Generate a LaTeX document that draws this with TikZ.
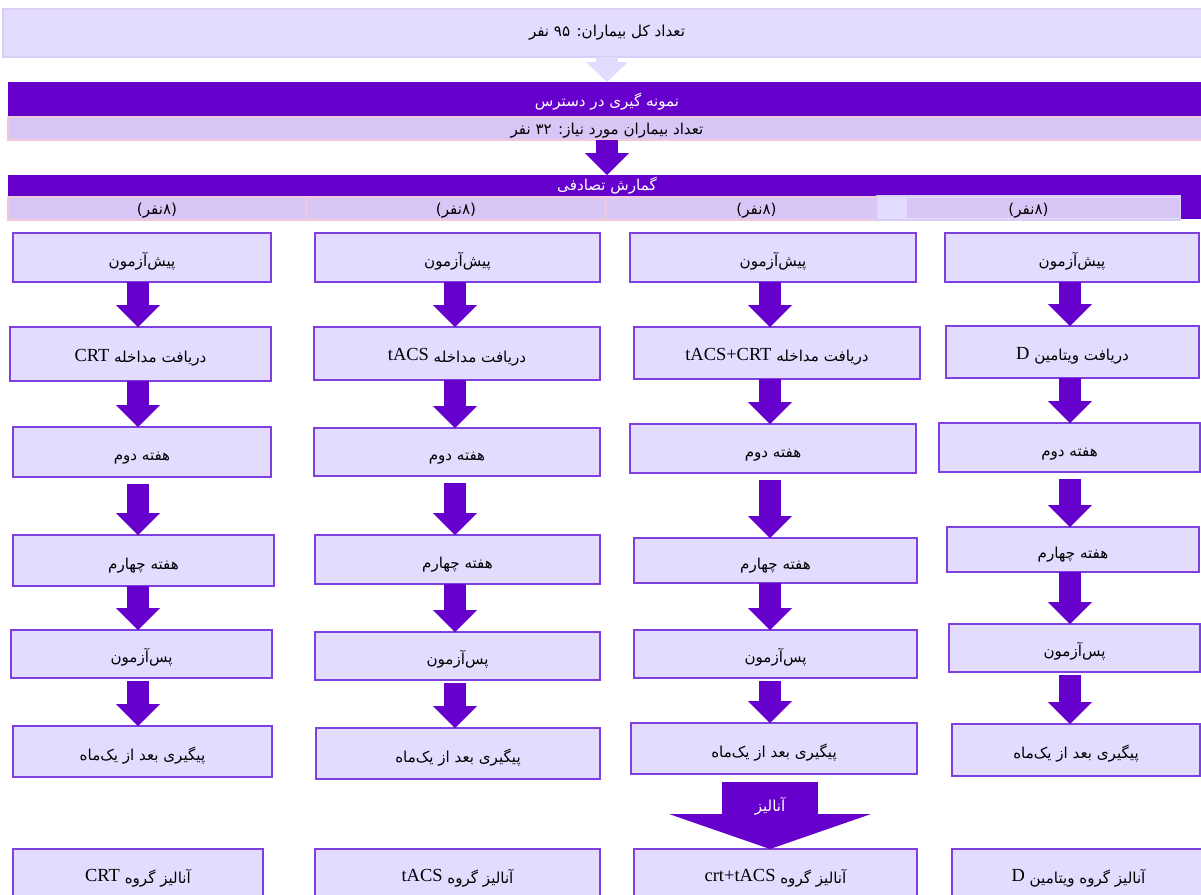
\documentclass[tikz,border=0pt]{standalone}
\usepackage{fontspec}
\setmainfont{Liberation Serif}
\newfontfamily\fa[Script=Arabic]{DejaVu Sans}
\TeXXeTstate=1
\usetikzlibrary{arrows.meta}

\definecolor{deeppurple}{HTML}{6600CC}
\definecolor{lavender}{HTML}{E4DCFF}
\definecolor{boxline}{HTML}{8040E0}
\definecolor{stripfill}{HTML}{D8C7F6}
\definecolor{stripline}{HTML}{F2C8DA}
\definecolor{paleline}{HTML}{D8CEF8}

\newcommand{\rtl}[1]{\beginR #1\endR}
\newcommand{\lat}[1]{{\rmfamily\fontsize{10.5}{12}\selectfont\raisebox{0.8pt}{#1}}}

\begin{document}
\begin{tikzpicture}
  [x=0.02cm, y=-0.02cm,
   every node/.style={inner sep=0pt, outer sep=0pt, font=\fa\fontsize{8.6}{10}\selectfont},
   stage/.style 2 args={rectangle, draw=boxline, line width=0.8pt, fill=lavender,
     text height=11pt, text depth=1pt,
     minimum width=#1*0.02cm, minimum height=#2*0.02cm},
   toppanel/.style 2 args={rectangle, draw=paleline, line width=0.8pt, fill=lavender,
     minimum width=#1*0.02cm, minimum height=#2*0.02cm},
   band/.style 2 args={rectangle, fill=deeppurple, text=white,
     minimum width=#1*0.02cm, minimum height=#2*0.02cm},
   strip/.style 2 args={rectangle, draw=stripline, line width=0.8pt, fill=stripfill,
     text height=8pt, text depth=1pt,
     minimum width=#1*0.02cm, minimum height=#2*0.02cm},
   flowarrow/.style={draw=deeppurple, line width=0.44cm,
     -{Triangle[width=0.88cm, length=0.44cm, line width=0pt]}},
   palearrow/.style={draw=lavender, line width=0.44cm,
     -{Triangle[width=0.84cm, length=0.40cm, line width=0pt]}},
   bigarrow/.style={draw=deeppurple, line width=1.92cm, shorten <=0.16cm,
     -{Triangle[width=4.04cm, length=0.70cm, line width=0pt]}}]
  \useasboundingbox (0,0) rectangle (1201,894);
  \clip (0,0) rectangle (1201,894);

  % head of the chart
  \node[toppanel={1208}{48}] (total) at (607,33) {\rtl{تعداد کل بیماران: ۹۵ نفر}};
  \node[band={1198}{35}] (sampling) at (607,99.5) {};
  \node[text=white] (samplingtxt) at (607,102) {\rtl{نمونه گیری در دسترس}};
  \node[strip={1198}{23}] (needed) at (607,128.5) {\rtl{تعداد بیماران مورد نیاز: ۳۲ نفر}};
  \node[band={1198}{44}] (assign) at (607,197) {};
  \node[text=white] (assigntxt) at (607,186) {\rtl{گمارش تصادفی}};

  \node[strip={298}{23}] (g1) at (157,208.5) {\rtl{(۸نفر)}};
  \node[strip={300}{23}] (g2) at (456,208.5) {\rtl{(۸نفر)}};
  \node[strip={301}{23}] (g3) at (756.5,208.5) {\rtl{(۸نفر)}};
  \node[toppanel={303}{24}, text height=8pt, text depth=1pt,
    path picture={\fill[stripfill] ([xshift=0.6cm, yshift=0.04cm]path picture bounding box.south west)
      rectangle ([yshift=-0.04cm]path picture bounding box.north east);}]
    (g4) at (1028.5,208) {\rtl{(۸نفر)}};

  \draw[palearrow] (total.south) -- (sampling.north);
  \draw[flowarrow] (needed.south) -- (assign.north);

  % CRT
  \node[stage={258}{49}] (s11) at (142,257.5) {\rtl{پیش^^^^200cآزمون}};
  \node[stage={261}{54}] (s12) at (140.5,354) {\rtl{دریافت مداخله \lat{CRT}}};
  \node[stage={258}{50}] (s13) at (142,452) {\rtl{هفته دوم}};
  \node[stage={261}{51}] (s14) at (143.5,560.5) {\rtl{هفته چهارم}};
  \node[stage={261}{48}] (s15) at (141.5,654) {\rtl{پس^^^^200cآزمون}};
  \node[stage={259}{51}] (s16) at (142.5,751.5) {\rtl{پیگیری بعد از یک^^^^200cماه}};
  \node[stage={250}{51}] (s17) at (138,874.5) {\rtl{آنالیز گروه \lat{CRT}}};

  % tACS
  \node[stage={285}{49}] (s21) at (457.5,257.5) {\rtl{پیش^^^^200cآزمون}};
  \node[stage={286}{53}] (s22) at (457,353.5) {\rtl{دریافت مداخله \lat{tACS}}};
  \node[stage={286}{48}] (s23) at (457,452) {\rtl{هفته دوم}};
  \node[stage={285}{49}] (s24) at (457.5,559.5) {\rtl{هفته چهارم}};
  \node[stage={285}{48}] (s25) at (457.5,656) {\rtl{پس^^^^200cآزمون}};
  \node[stage={284}{51}] (s26) at (458,753.5) {\rtl{پیگیری بعد از یک^^^^200cماه}};
  \node[stage={285}{51}] (s27) at (457.5,874.5) {\rtl{آنالیز گروه \lat{tACS}}};

  % tACS+CRT
  \node[stage={286}{49}] (s31) at (773,257.5) {\rtl{پیش^^^^200cآزمون}};
  \node[stage={286}{52}] (s32) at (777,353) {\rtl{دریافت مداخله \lat{tACS+CRT}}};
  \node[stage={286}{49}] (s33) at (773,448.5) {\rtl{هفته دوم}};
  \node[stage={283}{45}] (s34) at (775.5,560.5) {\rtl{هفته چهارم}};
  \node[stage={283}{48}] (s35) at (775.5,654) {\rtl{پس^^^^200cآزمون}};
  \node[stage={286}{51}] (s36) at (774,748.5) {\rtl{پیگیری بعد از یک^^^^200cماه}};
  \node[stage={283}{51}] (s37) at (775.5,874.5) {\rtl{آنالیز گروه \lat{crt+tACS}}};

  % vitamin D
  \node[stage={254}{49}] (s41) at (1072,257.5) {\rtl{پیش^^^^200cآزمون}};
  \node[stage={253}{52}] (s42) at (1072.5,352) {\rtl{دریافت ویتامین \lat{D}}};
  \node[stage={261}{49}] (s43) at (1069.5,447.5) {\rtl{هفته دوم}};
  \node[stage={252}{45}] (s44) at (1073,549.5) {\rtl{هفته چهارم}};
  \node[stage={251}{48}] (s45) at (1074.5,648) {\rtl{پس^^^^200cآزمون}};
  \node[stage={248}{52}] (s46) at (1076,750) {\rtl{پیگیری بعد از یک^^^^200cماه}};
  \node[stage={253}{51}] (s47) at (1078.5,874.5) {\rtl{آنالیز گروه ویتامین \lat{D}}};

  \coordinate (ax1) at (138,0);
  \coordinate (ax2) at (455,0);
  \coordinate (ax3) at (770,0);
  \coordinate (ax4) at (1070,0);

  \foreach \c in {1,...,4}
    \foreach \r/\n/\gap in {1/2/0,2/3/0,3/4/0.14,4/5/0,5/6/0.06}
      \draw[flowarrow, shorten <=\gap cm] (s\c\r.south -| ax\c) -- (s\c\n.north -| ax\c);

  \draw[bigarrow] (s36.south -| ax3) -- (s37.north -| ax3);
  \node[text=white] (analysis) at (770,806) {\rtl{آنالیز}};
\end{tikzpicture}
\end{document}
